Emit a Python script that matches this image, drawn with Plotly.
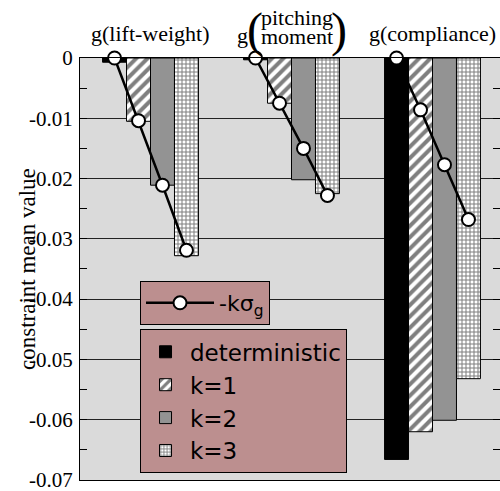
import plotly.graph_objects as go

# ---------------- data ----------------
categories = ["g(lift-weight)", "g(pitching moment)", "g(compliance)"]
series_names = ["deterministic", "k=1", "k=2", "k=3"]
deterministic = [-0.0007, -0.0003, -0.0666]
k1 = [-0.0105, -0.0075, -0.0620]
k2 = [-0.0211, -0.0202, -0.0601]
k3 = [-0.0328, -0.0225, -0.0532]
ksigma = [
    [0.0, -0.0104, -0.0211, -0.0319],   # lift-weight
    [0.0, -0.0075, -0.0150, -0.0228],   # pitching moment
    [0.0, -0.0086, -0.0177, -0.0268],   # compliance
]
ksigma_name = "-kσ<sub>g</sub>"
ytick_vals = [0, -0.01, -0.02, -0.03, -0.04, -0.05, -0.06, -0.07]
ytick_text = ["0", "-0.01", "-0.02", "-0.03", "-0.04", "-0.05", "-0.06", "-0.07"]

# ---------------- styling ----------------
BARGAP = 0.32
n_series = len(series_names)
bar_w = (1 - BARGAP) / n_series
xpos = list(range(len(categories)))

series_vals = [deterministic, k1, k2, k3]
bar_styles = [
    dict(color="black"),
    dict(color="white", pattern=dict(shape="/", fgcolor="black", bgcolor="white", size=8, solidity=0.5)),
    dict(color="#939393"),
    dict(color="white", pattern=dict(shape="+", fgcolor="black", bgcolor="white", size=4, solidity=0.45)),
]

fig = go.Figure()
for name, vals, st in zip(series_names, series_vals, bar_styles):
    fig.add_trace(go.Bar(
        x=xpos, y=vals, name=name, legend="legend2",
        marker=dict(line=dict(color="black", width=1), **st),
    ))

# -k sigma line, markers at the bar centres of each group
lx, ly = [], []
for i, grp in enumerate(ksigma):
    for j, v in enumerate(grp):
        lx.append(i + (j - (n_series - 1) / 2) * bar_w)
        ly.append(v)
    lx.append(None)
    ly.append(None)
fig.add_trace(go.Scatter(
    x=lx, y=ly, mode="lines+markers", name=ksigma_name, legend="legend",
    line=dict(color="black", width=2.5), connectgaps=False, cliponaxis=False,
    marker=dict(size=13, color="white", line=dict(color="black", width=2)),
))

serif = "Liberation Serif"
sans = "DejaVu Sans"


def ann(x, text, xshift=0, yshift=0, size=22):
    return dict(x=x, xref="x", y=1, yref="paper", yanchor="middle", xanchor="center",
                xshift=xshift, yshift=yshift, text=text, showarrow=False,
                font=dict(family=serif, size=size, color="black"))


annotations = []
# category headers
annotations.append(ann(0, categories[0], yshift=25))
annotations.append(ann(2, categories[2], yshift=25))
# pitching moment header with large parentheses
p_top, p_bot = categories[1][2:-1].split(" ")
annotations += [
    ann(1, categories[1][0], xshift=-49, yshift=23),
    ann(1, "(", xshift=-37, yshift=28, size=48),
    ann(1, p_top, xshift=5, yshift=41),
    ann(1, p_bot, xshift=5, yshift=22),
    ann(1, ")", xshift=47, yshift=28, size=48),
]
# y axis title
annotations.append(dict(x=0, xref="paper", y=0.5, yref="paper", xanchor="center", yanchor="middle",
                        xshift=-53, textangle=-90, text="constraint mean value", showarrow=False,
                        font=dict(family=serif, size=23, color="black")))

fig.update_layout(
    width=500, height=491,
    margin=dict(l=80, r=0, t=58, b=11),
    paper_bgcolor="white", plot_bgcolor="#dadada",
    barmode="group", bargap=BARGAP, bargroupgap=0,
    showlegend=True,
    annotations=annotations,
    legend=dict(x=0.1429, y=0.4716, xanchor="left", yanchor="top",
                bgcolor="#bc8f8f", bordercolor="black", borderwidth=1,
                font=dict(family=sans, size=22, color="black"), itemwidth=68),
    legend2=dict(x=0.1429, y=0.357, xanchor="left", yanchor="top",
                 bgcolor="#bc8f8f", bordercolor="black", borderwidth=1,
                 font=dict(family=sans, size=23, color="black"), itemwidth=39,
                 tracegroupgap=0),
    xaxis=dict(range=[-0.5, -0.5 + 420 / 141], showticklabels=False, ticks="",
               showgrid=False, zeroline=False, showline=True, mirror=True,
               linecolor="black", linewidth=1),
    yaxis=dict(range=[-0.07001, 0.000001], tickvals=ytick_vals, ticktext=ytick_text,
               ticks="inside", ticklen=7, tickcolor="black", showline=True, linecolor="black",
               mirror="ticks", showgrid=True, gridcolor="#222222", gridwidth=1, zeroline=False,
               tickfont=dict(family=serif, size=21, color="black"), ticklabelstandoff=2,
               ticklabeloverflow="allow",
               minor=dict(dtick=0.005, ticks="inside", ticklen=7, tickcolor="black", showgrid=False)),
)

fig.write_html("out.html")
